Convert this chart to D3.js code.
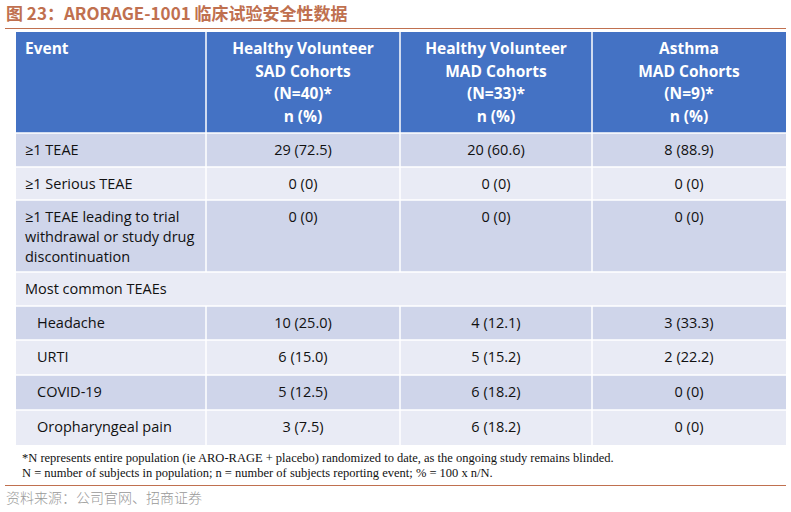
<!DOCTYPE html><html><head><meta charset="utf-8"><script src="https://cdn.jsdelivr.net/npm/d3@7"></script>
<style>body{margin:0;background:#fff}</style></head><body><svg id="c" width="791" height="512"></svg><script>
const headers=[["Event"],["Healthy Volunteer","SAD Cohorts","(N=40)*","n (%)"],["Healthy Volunteer","MAD Cohorts","(N=33)*","n (%)"],["Asthma","MAD Cohorts","(N=9)*","n (%)"]];
const events=[["≥1 TEAE"],["≥1 Serious TEAE"],["≥1 TEAE leading to trial","withdrawal or study drug","discontinuation"],["Most common TEAEs"],["Headache"],["URTI"],["COVID-19"],["Oropharyngeal pain"]];
const sad=["29 (72.5)","0 (0)","0 (0)",null,"10 (25.0)","6 (15.0)","5 (12.5)","3 (7.5)"];
const madHV=["20 (60.6)","0 (0)","0 (0)",null,"4 (12.1)","5 (15.2)","6 (18.2)","6 (18.2)"];
const madA=["8 (88.9)","0 (0)","0 (0)",null,"3 (33.3)","2 (22.2)","0 (0)","0 (0)"];
const indent=[0,0,0,0,1,1,1,1];
const rowH=[34,33,72,34,34,35,35,35];
const colX=[16,206,400,592,786];
const svg=d3.select("#c");
const F="'Open Sans', sans-serif";
svg.append("text").attr("x",6).attr("y",20).attr("fill","#C0704F").attr("font-size",17).attr("font-weight","bold").attr("font-family","'Noto Sans CJK SC', sans-serif").text("图 23：ARORAGE-1001 临床试验安全性数据");
svg.append("line").attr("x1",5).attr("x2",786).attr("y1",28.5).attr("y2",28.5).attr("stroke","#C0704F").attr("stroke-width",1.2);
const t0=32,hH=101;
svg.append("rect").attr("x",colX[0]).attr("y",t0).attr("width",colX[4]-colX[0]).attr("height",hH).attr("fill","#4472C4");
headers.forEach((h,i)=>{const cx=i==0?colX[0]+9:(colX[i]+colX[i+1])/2;
 h.forEach((t,j)=>svg.append("text").attr("x",cx).attr("y",t0+22+j*22.5).attr("text-anchor",i==0?"start":"middle").attr("fill","#fff").attr("font-weight","bold").attr("font-size",15.5).attr("font-family",F).text(t));});
let y=t0+hH;const cols=[sad,madHV,madA];
events.forEach((e,r)=>{const h=rowH[r];
 svg.append("rect").attr("x",colX[0]).attr("y",y).attr("width",colX[4]-colX[0]).attr("height",h).attr("fill",r%2==0?"#CFD5EA":"#E9EBF5");
 e.forEach((t,j)=>svg.append("text").attr("x",colX[0]+9+indent[r]*12).attr("y",y+22+j*20).attr("font-size",14.5).attr("font-family",F).attr("fill","#111").text(t));
 cols.forEach((c,k)=>{if(c[r]!=null)svg.append("text").attr("x",(colX[k+1]+colX[k+2])/2).attr("y",y+22).attr("text-anchor","middle").attr("font-size",14.5).attr("font-family",F).attr("fill","#111").text(c[r]);});
 if(r!=3)[1,2,3].forEach(k=>svg.append("line").attr("x1",colX[k]).attr("x2",colX[k]).attr("y1",y).attr("y2",y+h).attr("stroke","#fff").attr("stroke-width",1.5));
 svg.append("line").attr("x1",colX[0]).attr("x2",colX[4]).attr("y1",y).attr("y2",y).attr("stroke","#fff").attr("stroke-width",1.5);
 y+=h;});
[1,2,3].forEach(k=>svg.append("line").attr("x1",colX[k]).attr("x2",colX[k]).attr("y1",t0).attr("y2",t0+hH).attr("stroke","#fff").attr("stroke-width",1.5));
const notes=["*N represents entire population (ie ARO-RAGE + placebo) randomized to date, as the ongoing study remains blinded.","N = number of subjects in population; n = number of subjects reporting event; % = 100 x n/N."];
notes.forEach((t,i)=>svg.append("text").attr("x",22).attr("y",462+i*15).attr("font-size",12.5).attr("font-family","'Liberation Serif', serif").attr("fill","#111").text(t));
svg.append("line").attr("x1",5).attr("x2",786).attr("y1",485.5).attr("y2",485.5).attr("stroke","#C0704F").attr("stroke-width",1.2);
svg.append("text").attr("x",6).attr("y",503).attr("font-size",14).attr("font-family","'Noto Sans CJK SC', sans-serif").attr("font-weight",300).attr("fill","#999").text("资料来源：公司官网、招商证券");
</script></body></html>
